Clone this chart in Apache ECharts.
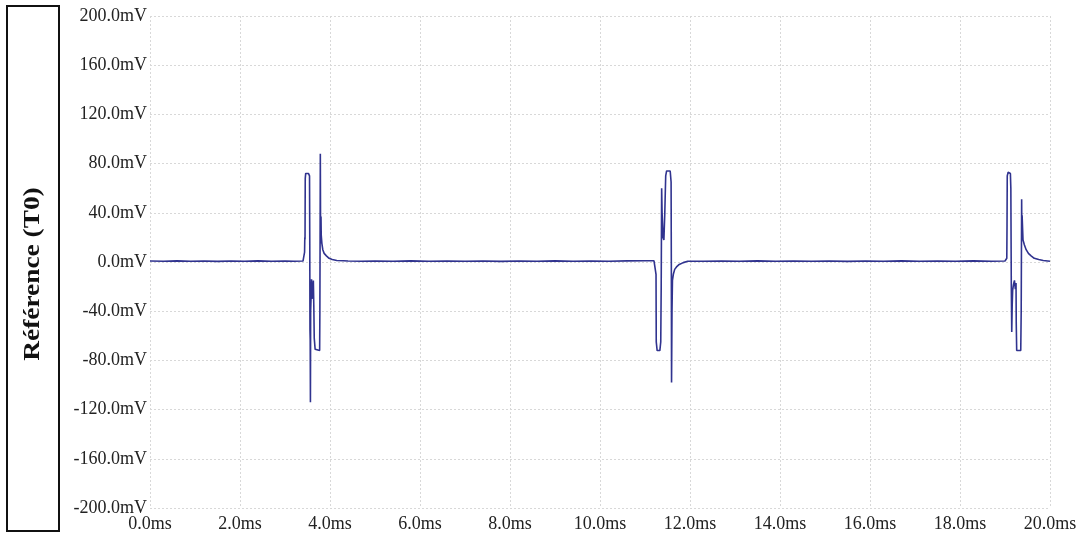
<!DOCTYPE html>
<html>
<head>
<meta charset="utf-8">
<script src="https://cdn.jsdelivr.net/npm/echarts@6/dist/echarts.min.js"></script>
<style>html,body{margin:0;padding:0;background:#fff}#c{width:1084px;height:537px}</style>
</head>
<body>
<div id="c"></div>
<script>
// Axis ticks
const xTicks = [0, 2, 4, 6, 8, 10, 12, 14, 16, 18, 20];           // ms
const yTicks = [-200, -160, -120, -80, -40, 0, 40, 80, 120, 160, 200]; // mV
const axisTitle = 'Référence (T0)';

// Trace segments [time ms, voltage mV]
const baseline1 = [[0,0.8],[0.3,0.6],[0.6,0.9],[0.9,0.6],[1.2,0.8],[1.5,0.5],[1.8,0.8],[2.1,0.6],[2.4,0.9],[2.7,0.6],[3.0,0.8],[3.2,0.6]];
const pulse1 = [[3.40,0.8],[3.43,1],[3.435,8],[3.44,20],[3.445,18],[3.45,68],[3.46,72],[3.52,72],[3.545,70],[3.55,20],[3.555,-55],[3.56,-63],[3.565,-114],[3.57,-40],[3.58,-28],[3.59,-14],[3.60,-30],[3.61,-18],[3.62,-22],[3.63,-15],[3.64,-35],[3.65,-62],[3.67,-71],[3.69,-72],[3.77,-72],[3.775,-40],[3.78,20],[3.785,88],[3.79,30],[3.795,15],[3.80,37],[3.805,22],[3.82,15],[3.84,10],[3.87,7],[3.92,5],[3.98,3],[4.05,2],[4.15,1.2],[4.30,1],[4.40,0.8]];
const baseline2 = [[4.7,0.6],[5.0,0.8],[5.4,0.6],[5.8,0.9],[6.2,0.6],[6.6,0.8],[7.0,0.6],[7.4,0.8],[7.8,0.5],[8.2,0.8],[8.6,0.6],[9.0,0.9],[9.4,0.6],[9.8,0.8],[10.2,0.6],[10.6,0.9],[11.0,1]];
const pulse2 = [[11.20,1],[11.24,1.5],[11.245,-10],[11.25,-65],[11.27,-72],[11.33,-72],[11.35,-65],[11.36,-20],[11.37,60],[11.38,40],[11.40,20],[11.42,18],[11.44,40],[11.46,70],[11.48,74],[11.56,74],[11.58,65],[11.585,0],[11.59,-98],[11.60,-40],[11.61,-15],[11.63,-10],[11.66,-6],[11.70,-4],[11.76,-2],[11.85,-0.5],[11.95,0.6]];
const baseline3 = [[12.3,0.6],[12.7,0.8],[13.1,0.6],[13.5,0.9],[13.9,0.6],[14.3,0.8],[14.7,0.6],[15.1,0.8],[15.5,0.5],[15.9,0.8],[16.3,0.6],[16.7,0.9],[17.1,0.6],[17.5,0.8],[17.9,0.6],[18.3,0.9],[18.7,0.6]];
const pulse3 = [[19.00,0.8],[19.03,1],[19.04,3],[19.045,30],[19.05,70],[19.07,73],[19.12,72],[19.13,60],[19.14,-20],[19.15,-57],[19.16,-35],[19.17,-23],[19.19,-18],[19.21,-15],[19.23,-22],[19.245,-17],[19.25,-50],[19.26,-72],[19.35,-72],[19.36,-40],[19.37,51],[19.375,20],[19.38,38],[19.40,18],[19.43,14],[19.47,10],[19.52,7],[19.58,5],[19.65,3],[19.75,2],[19.85,1.2],[19.95,0.8],[20.0,0.6]];

const trace = [].concat(baseline1, pulse1, baseline2, pulse2, baseline3, pulse3);

const chart = echarts.init(document.getElementById('c'), null, {renderer: 'canvas'});
const font = '"Liberation Serif", "Times New Roman", serif';
const grid = {color: '#d8d8d8', type: [2, 2], width: 1};
chart.setOption({
  animation: false,
  backgroundColor: '#ffffff',
  grid: {left: 150, right: 34, top: 16, bottom: 29},
  xAxis: {
    type: 'value', min: xTicks[0], max: xTicks[xTicks.length - 1], interval: 2,
    axisLine: {show: false}, axisTick: {show: false},
    splitLine: {show: true, lineStyle: grid},
    axisLabel: {fontFamily: font, fontSize: 18, color: '#222', margin: 7,
      formatter: v => v.toFixed(1) + 'ms'}
  },
  yAxis: {
    type: 'value', min: yTicks[0], max: yTicks[yTicks.length - 1], interval: 40,
    axisLine: {show: false}, axisTick: {show: false},
    splitLine: {show: true, lineStyle: grid},
    axisLabel: {fontFamily: font, fontSize: 18, color: '#222', margin: 3,
      formatter: v => v.toFixed(1) + 'mV'}
  },
  graphic: [
    {type: 'rect', shape: {x: 7, y: 6, width: 52, height: 525},
     style: {fill: '#fff', stroke: '#111', lineWidth: 2}},
    {type: 'text', x: 33, y: 274, rotation: Math.PI / 2, scaleX: 1.14,
     style: {text: axisTitle, font: 'bold 24px ' + font, fill: '#111',
       textAlign: 'center', textVerticalAlign: 'middle'}}
  ],
  series: [{
    type: 'line', data: trace, showSymbol: false, symbol: 'none',
    lineStyle: {color: '#30338f', width: 1.6}
  }]
});
</script>
</body>
</html>
